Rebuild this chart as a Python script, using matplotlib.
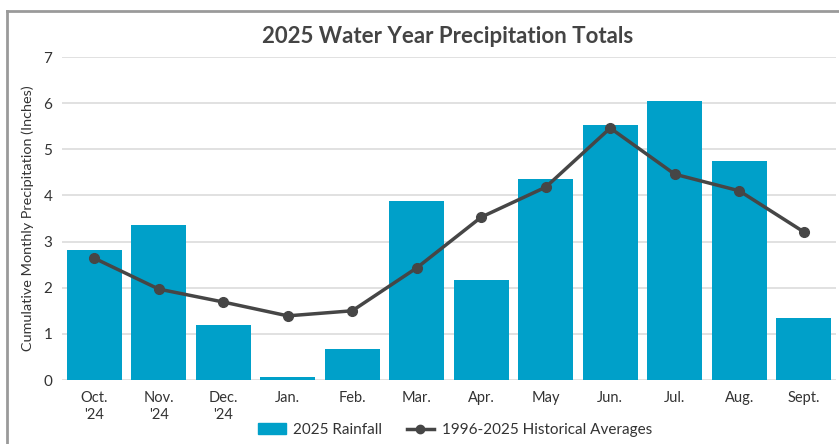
import matplotlib
matplotlib.use("Agg")
import matplotlib.pyplot as plt
from matplotlib.lines import Line2D
import numpy as np

plt.rcParams['font.family'] = ['Lato', 'DejaVu Sans']

months = ["Oct.\n'24", "Nov.\n'24", "Dec.\n'24", "Jan.", "Feb.", "Mar.", "Apr.", "May", "Jun.", "Jul.", "Aug.", "Sept."]
rainfall_2025 = [2.82, 3.36, 1.19, 0.07, 0.67, 3.88, 2.17, 4.36, 5.53, 6.05, 4.75, 1.34]
historical_avg = [2.64, 1.97, 1.69, 1.39, 1.50, 2.43, 3.53, 4.18, 5.46, 4.46, 4.10, 3.21]
yticks = [0, 1, 2, 3, 4, 5, 6, 7]

bar_color = '#00A0C9'
line_color = '#464646'
text_color = '#333333'

fig = plt.figure(figsize=(8.39, 4.44), dpi=100)
ax = fig.add_axes([62/839, 1-380/444, 774/839, 323/444])

x = np.arange(len(months))
ax.bar(x, rainfall_2025, width=0.86, color=bar_color, zorder=2, label='2025 Rainfall')
ax.plot(x, historical_avg, color=line_color, lw=2.5, marker='o', markersize=7, zorder=3,
        label='1996-2025 Historical Averages')

ax.set_xlim(-0.5, len(months) - 0.5)
ax.set_ylim(0, 7)
ax.set_yticks(yticks)
ax.set_xticks(x)
ax.set_xticklabels(months, fontsize=10.5, color=text_color, linespacing=1.3)
ax.tick_params(axis='y', labelsize=11, colors=text_color, length=0, pad=7)
ax.tick_params(axis='x', length=0, pad=8)
ax.grid(axis='y', color='#dcdcdc', lw=1.2, zorder=0)
for s in ax.spines.values():
    s.set_visible(False)
ax.set_ylabel('Cumulative Monthly Precipitation (Inches)', fontsize=10.4, color=text_color)
ax.yaxis.set_label_coords(-(62-34)/774, 0.5)

fig.text(448/839, 1-36/444, '2025 Water Year Precipitation Totals', ha='center', va='center',
         fontsize=16, fontweight='bold', color='#444444')

handles = [plt.Rectangle((0, 0), 1, 1, color=bar_color),
           Line2D([0], [0], color=line_color, lw=2.5, marker='o', markersize=6)]
fig.legend(handles, ['2025 Rainfall', '1996-2025 Historical Averages'], loc='center',
           bbox_to_anchor=(455/839, 1-430/444), ncol=2, frameon=False, fontsize=11,
           handlelength=1.8, columnspacing=1.6, handletextpad=0.5, labelcolor=text_color)

# frame border (left and top)
fig.add_artist(Line2D([7/839, 7/839], [0, 1-11/444], transform=fig.transFigure, color='#9a9a9a', lw=2))
fig.add_artist(Line2D([7/839, 1], [1-11/444, 1-11/444], transform=fig.transFigure, color='#9a9a9a', lw=2))

fig.savefig('out.png', dpi=100)
